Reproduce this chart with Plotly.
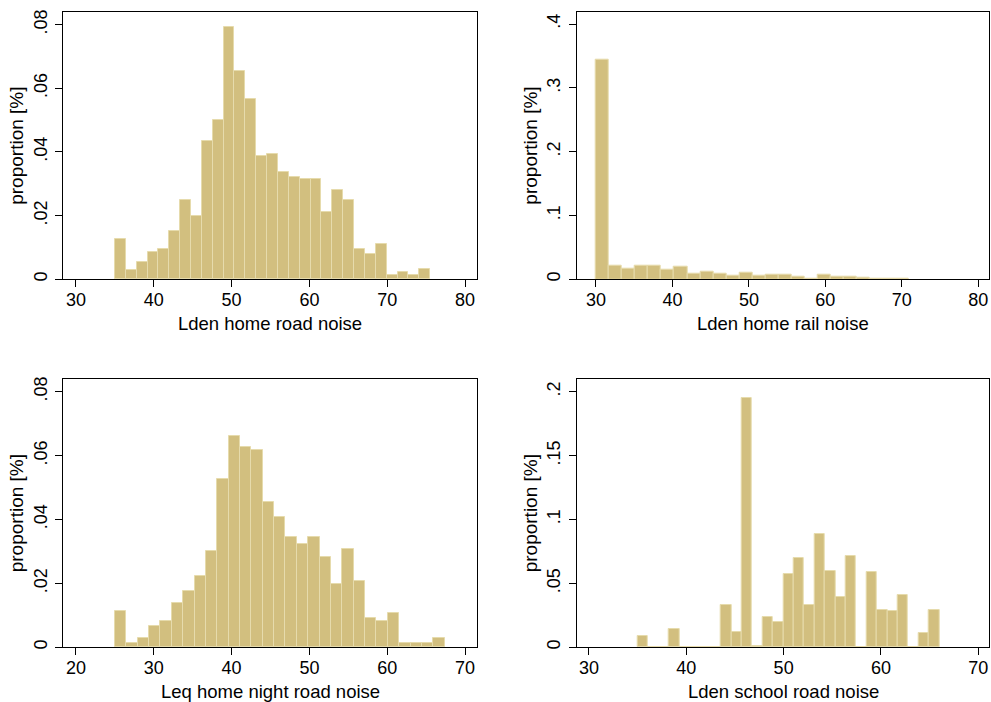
import plotly.graph_objects as go

# Histogram bins: first bin edge and bin width per variable
road_home_start, road_home_width = 35.0, 1.397
rail_home_start, rail_home_width = 30.0, 1.705
night_road_start, night_road_width = 25.0, 1.4617
school_road_start, school_road_width = 35.0, 1.069

# Proportion of observations in each bin
road_home = [0.0127, 0.0029, 0.0054, 0.0086, 0.0095, 0.0152, 0.0249, 0.0200, 0.0435, 0.0500,
             0.0793, 0.0655, 0.0565, 0.0388, 0.0395, 0.0338, 0.0321, 0.0315, 0.0315, 0.0210,
             0.0280, 0.0249, 0.0096, 0.0078, 0.0110, 0.0013, 0.0022, 0.0013, 0.0031]
rail_home = [0.3436, 0.0219, 0.0172, 0.0219, 0.0209, 0.0150, 0.0198, 0.0094, 0.0120, 0.0084,
             0.0052, 0.0096, 0.0052, 0.0076, 0.0066, 0.0045, 0.0012, 0.0076, 0.0034, 0.0034,
             0.0024, 0.0015, 0.0015, 0.0015]
night_road = [0.0114, 0.0013, 0.0029, 0.0068, 0.0083, 0.0138, 0.0176, 0.0222, 0.0300, 0.0526,
              0.0662, 0.0626, 0.0617, 0.0455, 0.0408, 0.0346, 0.0323, 0.0346, 0.0284, 0.0199,
              0.0308, 0.0208, 0.0092, 0.0083, 0.0106, 0.0013, 0.0013, 0.0013, 0.0029]
school_road = [0.0089, 0, 0, 0.0143, 0, 0, 0, 0, 0.0334, 0.0120,
               0.1953, 0.0013, 0.0237, 0.0198, 0.0576, 0.0701, 0.0334, 0.0884, 0.0600, 0.0391,
               0.0712, 0, 0.0587, 0.0292, 0.0282, 0.0407, 0, 0.0110, 0.0292]

# Axis titles and ticks
x_titles = ["Lden home road noise", "Lden home rail noise",
            "Leq home night road noise", "Lden school road noise"]
y_title = "proportion [%]"
x_ticks = [[30, 40, 50, 60, 70, 80], [30, 40, 50, 60, 70, 80],
           [20, 30, 40, 50, 60, 70], [30, 40, 50, 60, 70]]
y_tickvals = [[0, 0.02, 0.04, 0.06, 0.08], [0, 0.1, 0.2, 0.3, 0.4],
              [0, 0.02, 0.04, 0.06, 0.08], [0, 0.05, 0.1, 0.15, 0.2]]
y_ticktext = [["0", ".02", ".04", ".06", ".08"], ["0", ".1", ".2", ".3", ".4"],
              ["0", ".02", ".04", ".06", ".08"], ["0", ".05", ".1", ".15", ".2"]]

FILL = "rgb(210,191,127)"
EDGE = "rgb(230,219,172)"
FONT = "Liberation Sans, Arial, sans-serif"
W, H = 991, 702

# Per panel: values, bin start, bin width, x range, y top, plot box (px)
panels = [
    (road_home, road_home_start, road_home_width, (28.33, 81.54), 0.08395, (63, 477), (12, 279.3)),
    (rail_home, rail_home_start, rail_home_width, (27.48, 81.44), 0.4193, (576.7, 989.3), (11.7, 279.3)),
    (night_road, night_road_start, night_road_width, (18.33, 71.54), 0.08397, (63, 477), (379, 647.3)),
    (school_road, school_road_start, school_road_width, (28.74, 71.13), 0.2099, (576.7, 989.3), (379, 647.3)),
]

fig = go.Figure()
layout = dict(
    width=W, height=H, margin=dict(l=0, r=0, t=0, b=0),
    paper_bgcolor="white", plot_bgcolor="white", showlegend=False,
    bargap=0, font=dict(family=FONT, color="black"),
)
annotations = []

for i, (vals, start, width, xr, ytop, (px0, px1), (py0, py1)) in enumerate(panels):
    n = i + 1
    xa = "x" if n == 1 else f"x{n}"
    ya = "y" if n == 1 else f"y{n}"
    centers = [start + width * (k + 0.5) for k in range(len(vals))]
    fig.add_trace(go.Bar(
        x=centers, y=vals, width=width, xaxis=xa, yaxis=ya,
        marker=dict(color=FILL, line=dict(color=EDGE, width=1)),
        hoverinfo="x+y",
    ))
    xkey = "xaxis" if n == 1 else f"xaxis{n}"
    ykey = "yaxis" if n == 1 else f"yaxis{n}"
    layout[xkey] = dict(
        domain=[px0 / W, px1 / W], anchor=ya, range=list(xr),
        tickmode="array", tickvals=x_ticks[i], ticks="outside", ticklen=7,
        tickwidth=1.3, tickcolor="black", showline=True, linecolor="black",
        linewidth=1.3, mirror=True, showgrid=False, zeroline=False,
        tickfont=dict(size=18), ticklabelstandoff=-3,
        automargin=False,
    )
    layout[ykey] = dict(
        domain=[1 - py1 / H, 1 - py0 / H], anchor=xa, range=[0, ytop],
        tickmode="array", tickvals=y_tickvals[i], ticktext=y_ticktext[i],
        ticks="outside", ticklen=7, tickwidth=1.3, tickcolor="black",
        showline=True, linecolor="black", linewidth=1.3, mirror=True,
        showgrid=False, zeroline=False, tickangle=-90,
        tickfont=dict(size=18), ticklabelstandoff=1,
        title=dict(text=y_title, font=dict(size=19), standoff=1),
        automargin=False,
    )
    # x-axis title placed just under the tick labels
    annotations.append(dict(
        text=x_titles[i], xref="paper", yref="paper",
        x=(px0 + px1) / 2 / W, y=1 - (py1 + 44.5) / H,
        xanchor="center", yanchor="middle", showarrow=False,
        font=dict(size=18.5, family=FONT, color="black"),
    ))

layout["annotations"] = annotations
fig.update_layout(**layout)
fig.write_html("out.html")
